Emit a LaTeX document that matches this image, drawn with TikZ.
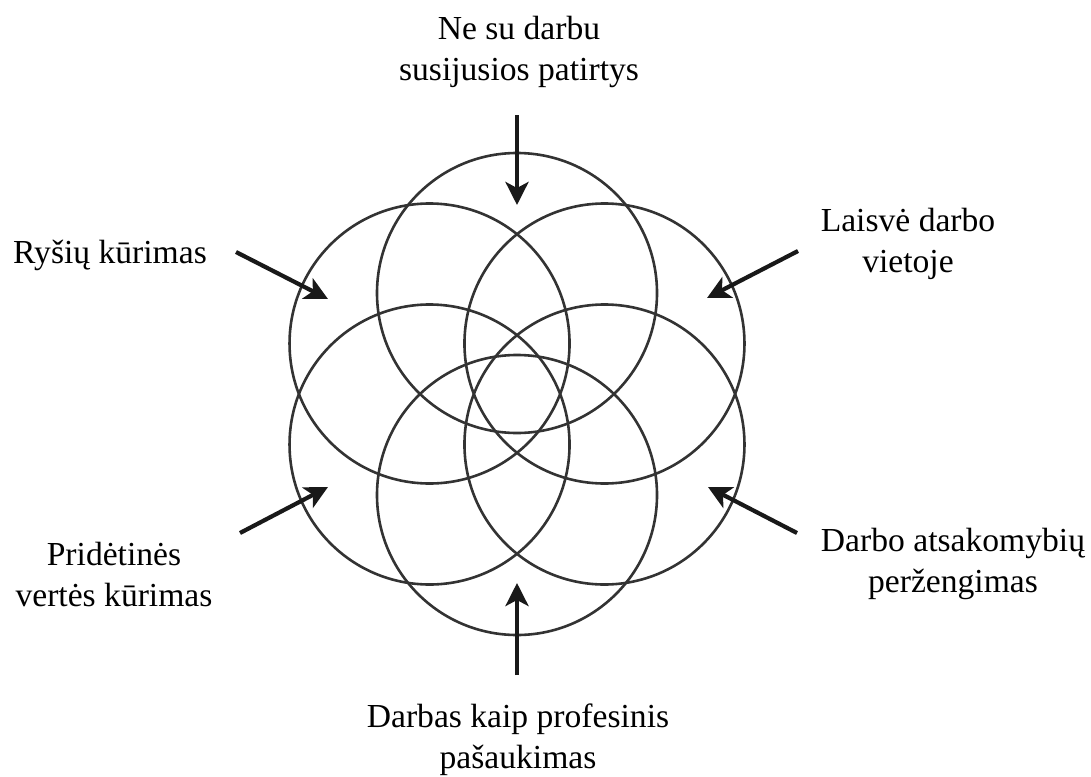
\documentclass[tikz,border=0pt]{standalone}
\usepackage{fontspec}
\setmainfont{Liberation Serif}
\usetikzlibrary{positioning, arrows.meta, calc}

\definecolor{ringgray}{HTML}{333333}

\begin{document}
\begin{tikzpicture}[
    x=1pt, y=-1pt,
    ring/.style={
        circle,
        draw=ringgray,
        line width=2.6pt,
        minimum size=280pt,
        inner sep=0pt
    },
    arrow/.style={
        -{Stealth[length=23pt, width=23pt, inset=6pt]},
        line width=4.2pt,
        black!90
    },
    factor/.style={
        align=center,
        anchor=base,
        inner sep=0pt,
        font=\rmfamily\fontsize{33.6}{41}\selectfont
    }
]
    \useasboundingbox (0,0) rectangle (1091,776);

    % Flower of six rings
    \coordinate (hub) at (517,394);
    \foreach \a in {90,150,210,270,330,390}
        \node[ring] (ring\a) at ($(hub)+(\a:101)$) {};

    % Labels (placed by the baseline of their last line)
    \node[factor] (outside) at (519,81) {Ne su darbu\\susijusios patirtys};
    \node[factor] (links) at (110,263) {Ryšių kūrimas};
    \node[factor] (freedom) at (908,272) {Laisvė darbo\\vietoje};
    \node[factor] (value) at (114,606) {Pridėtinės\\vertės kūrimas};
    \node[factor] (beyond) at (953,592) {Darbo atsakomybių\\peržengimas};
    \node[factor] (calling) at (518,768) {Darbas kaip profesinis\\pašaukimas};

    % Arrow ends
    \coordinate (outsideTail) at (517,115);
    \coordinate (outsideTip) at (517,205);
    \coordinate (linksTail) at (236,252);
    \coordinate (linksTip) at (328,299);
    \coordinate (freedomTail) at (798,251);
    \coordinate (freedomTip) at (707,298);
    \coordinate (valueTail) at (240,533);
    \coordinate (valueTip) at (328,487);
    \coordinate (beyondTail) at (797,533);
    \coordinate (beyondTip) at (708,487);
    \coordinate (callingTail) at (517,675);
    \coordinate (callingTip) at (517,583);

    % Arrows
    \draw[arrow] (outsideTail) -- (outsideTip);
    \draw[arrow] (linksTail) -- (linksTip);
    \draw[arrow] (freedomTail) -- (freedomTip);
    \draw[arrow] (valueTail) -- (valueTip);
    \draw[arrow] (beyondTail) -- (beyondTip);
    \draw[arrow] (callingTail) -- (callingTip);

\end{tikzpicture}
\end{document}
